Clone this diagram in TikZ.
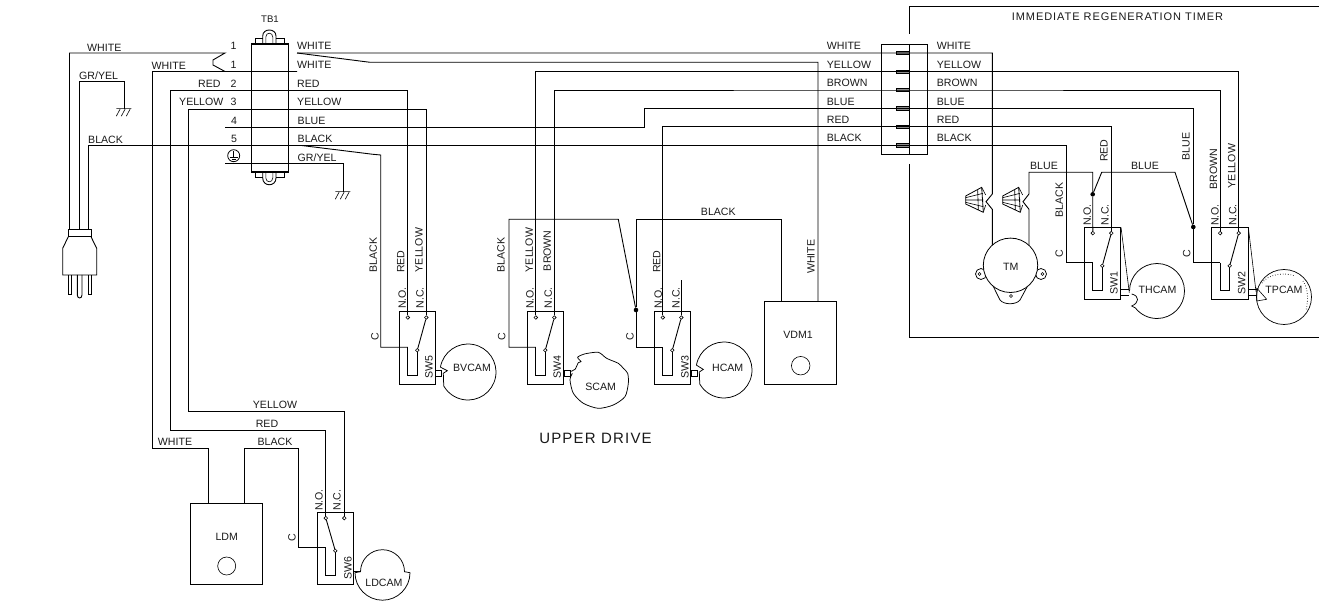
\documentclass[tikz,border=0pt]{standalone}
\usepackage{fontspec}
\setmainfont{Liberation Sans}
\newfontfamily\spacedA[LetterSpace=8]{Liberation Sans}
\newfontfamily\spacedB[LetterSpace=8.5]{Liberation Sans}
\newcounter{lbn}
\tikzset{
  wire/.style={line width=.9pt,black,line join=miter},
  thinwire/.style={line width=.6pt,black},
  boxed/.style={draw,line width=.9pt,inner sep=0pt,rectangle},
  swbox/.style={boxed,minimum width=36.6pt,minimum height=72.4pt},
  contact/.style={draw,circle,fill=white,line width=.6pt,inner sep=0pt,minimum size=3.6pt},
  jdot/.style={circle,fill=black,inner sep=0pt,minimum size=4.6pt},
  holec/.style={draw,circle,line width=.6pt,inner sep=0pt},
  lb/.style={inner sep=0pt,font=\fontsize{10.6}{12}\selectfont,text=black!90},
  vlb/.style={lb,rotate=90},
  cam/.style={line width=.75pt,black}
}
\newcommand\LL[3][]{\stepcounter{lbn}\node[lb,anchor=west,#1] (lab\thelbn) at (#2) {#3};}
\newcommand\CL[3][]{\stepcounter{lbn}\node[lb,#1] (lab\thelbn) at (#2) {#3};}
\newcommand\VL[2]{\stepcounter{lbn}\node[vlb] (lab\thelbn) at (#1) {#2};}
% switch block: name, left x, top y, contact the arm goes to
\newcommand\SwitchBlock[4]{%
  \begin{scope}[shift={(#2,#3)}]
    \node[swbox] (#1) at (18.3,36.2) {};
    \coordinate (#1i) at (8.5,35.5);
    \draw[wire] (#1i) -- (8.5,63.3) -- (18,63.3) -- (18,38.5);
    \node[contact] (#1no) at (8.5,5.8) {};
    \node[contact] (#1nc) at (27,5.8) {};
    \node[contact] (#1c) at (18,38.5) {};
    \draw[wire] (#1c) -- (#1#4);
  \end{scope}}
\newcommand\GroundAt[2]{%
  \begin{scope}[shift={(#1)}]
    \coordinate (#2) at (0,0);
    \draw[thinwire] (-8,0) -- (7,0) (-4,0) -- (-8,7.5) (1,0) -- (-3,7.5) (6,0) -- (2,7.5);
  \end{scope}}
\newcommand\QuickConnect[1]{%
  \begin{scope}[shift={(#1)},scale=1/3]
    \draw[line width=.8pt,line join=round] (32,48) -- (80,22) -- (85,97) -- (32,72) -- cycle;
    \draw[thinwire] (32,60) -- (85,60) (32,53) -- (84,40) (32,67) -- (85,80) (68,30) -- (70,90);
    \draw[thinwire] (80,22) -- (92,45) (85,97) -- (92,75);
  \end{scope}}
\begin{document}
\begin{tikzpicture}[x=1pt,y=-1pt]
\useasboundingbox (0,0) rectangle (1319,601);
% ---------- named end points ----------
\coordinate (plugW) at (69.5,229.3);
\coordinate (plugG) at (79.3,229.3);
\coordinate (plugB) at (88.3,229.3);
\coordinate (tbL1a) at (225,53);
\coordinate (tbL1b) at (225,71.5);
\coordinate (tbR1a) at (297,53);
\coordinate (tbR1b) at (297,71.5);
\coordinate (tbL4) at (225,127);
\coordinate (tbLg) at (225,163.7);
\coordinate (tbBk) at (301.7,145.5);
\foreach \nm/\yy in {W/53,Y/71.7,Br/90,B/108.3,R/126.7,K/145.3}{\coordinate (con\nm) at (909.3,\yy);}
\coordinate (tmA) at (992.3,245.4);
\coordinate (tmB) at (1029,245.6);
\coordinate (ldmW) at (208.3,503.3);
\coordinate (ldmB) at (244.7,503.3);
\coordinate (vdmW) at (818,301);
\coordinate (vdmB) at (781.7,301);
% ---------- boxes ----------
\node[boxed,line width=1.2pt,minimum width=37pt,minimum height=128pt] (tb1) at (270,108) {};
\node[boxed,minimum width=46pt,minimum height=110pt] (timerconn) at (904.7,99) {};
\node[boxed,minimum width=72.7pt,minimum height=83pt] (vdm1) at (800.4,342.5) {};
\node[boxed,minimum width=72pt,minimum height=81pt] (ldm) at (226.7,543.8) {};
\node[holec,minimum size=18.5pt] (vdmh) at (800.7,365.7) {};
\node[holec,minimum size=18pt] (ldmh) at (226.7,566) {};
\SwitchBlock{swv}{399.3}{311.7}{nc}
\SwitchBlock{swf}{527.3}{311.7}{nc}
\SwitchBlock{swt}{654.3}{311.7}{nc}
\SwitchBlock{swo}{1084.3}{227.3}{nc}
\SwitchBlock{swb}{1211.7}{227.3}{nc}
\SwitchBlock{swx}{317.3}{512.3}{no}
\node[jdot] (dotA) at (636,310) {};
\node[jdot] (dotB) at (1092.7,194.3) {};
\node[jdot] (dotC) at (1193.3,227) {};
% ---------- timer frame ----------
\coordinate (frA) at (909.3,34);
\coordinate (frB) at (909.3,164);
\draw[wire] (frA) |- (1319,6);
\draw[wire] (frB) |- (1319,337.5);
\draw[thinwire] (909.3,44) -- (909.3,154);
\foreach \yy in {53,71.7,90,108.3,126.7,145.3}{\draw[thinwire,fill=black!45] (896,\yy-1.6) rectangle (909.3,\yy+1.6);}
% ---------- wires ----------
\draw[wire] (plugW) |- (tbL1a) -- (213,60) -- (213,65) -- (tbL1b) -- (tbR1b);
\draw[wire] (ldmW) |- (152.7,448) -- (152.7,71.5) -- (tbL1b);
\draw[wire] (tbR1a) -- (conW) -- (992.3,53) -- (992.3,194) -- (986,201.7) -- (992.3,209.3) -- (tmA);
\draw[wire] (tbR1a) -- (370,62.3) -| (vdmW);
\draw[wire] (swxno) |- (170.7,430) -- (170.7,90) -| (swvno);
\draw[wire] (swxnc) |- (188.7,411.7) -- (188.7,109) -| (swvnc);
\draw[wire] (plugB) |- (conK) -- (1066,145.3) |- (swoi);
\draw[wire] (tbBk) -- (373,154.3) -- (380.7,155) |- (swvi);
\draw[wire] (plugG) |- (124.3,81.7) -- (124.3,108.7);
\draw[wire] (tbL4) -- (644.3,127) -- (644.3,108.3) -- (conB) -| (dotC);
\draw[wire] (swfno) |- (conY) -| (swbnc);
\draw[wire] (swfnc) |- (conBr) -| (swbno);
\draw[wire] (swtno) |- (conR) -| (swonc);
\draw[wire] (swfi) -- (509,347.2) -- (509,219.3) -- (618.3,219.3) -- (dotA);
\draw[wire] (swti) -| (dotA);
\draw[wire] (dotA) |- (781.7,219.3) -- (vdmB);
\draw[wire] (swtnc) -- ++(0,-37);
\draw[wire] (ldmB) -- (244.7,448) -- (298.7,448) |- (swxi);
\draw[wire] (swbi) -| (dotC);
\draw[wire] (dotC) -- (1175,172.3) -- (1101.7,172.3) -- (dotB);
\draw[wire] (swono) -- (dotB) -- (1092.7,172.3) -- (1029,172.3) -- (1029,194) -- (1023,201.7) -- (1029,209.3) -- (tmB);
\draw[wire] (tbLg) -- (343.3,163.7) -- (343.3,191.7);
\GroundAt{124.3,108.7}{gndA}
\GroundAt{343.3,191.7}{gndB}
% ---------- terminal block ends ----------
\draw[wire,line width=1pt] (255,44) -- (255,38.5) -- (262.7,38.5) (276,38.5) -- (284.3,38.5) -- (284.3,44);
\draw[wire] (262.7,44) -- (262.7,36) .. controls (262.7,28) and (276,28) .. (276,36) -- (276,44);
\draw[thinwire] (265.8,44) -- (265.8,37) .. controls (265.8,32) and (272.8,32) .. (272.8,37) -- (272.8,44);
\draw[wire,line width=1pt] (255,172) -- (255,177.7) -- (262.7,177.7) (276,177.7) -- (284.3,177.7) -- (284.3,172);
\draw[wire] (262.7,172) -- (262.7,178) .. controls (262.7,187) and (276,187) .. (276,178) -- (276,172);
\draw[thinwire] (265.8,172) -- (265.8,178) .. controls (265.8,183) and (272.8,183) .. (272.8,178) -- (272.8,172);
\node[holec,line width=.8pt,minimum size=12pt] (gndsym) at (233.7,155.7) {};
\draw[thinwire] (233.7,151.5) -- (233.7,157) (229.5,157) -- (238,157) (231.5,159.3) -- (236,159.3);
% ---------- plug ----------
\draw[wire,line width=.9pt] (68.3,229.3) rectangle (91,236.7);
\draw[wire] (68.3,236.7) -- (62.7,248.3) -- (62.7,275) -- (96.7,275) -- (96.7,248.3) -- (91,236.7);
\draw[wire] (68.3,275) -- (68.3,294) -- (71,294) -- (71,275);
\draw[wire] (77.3,275) -- (77.3,295) .. controls (77.3,299) and (82,299) .. (82,295) -- (82,275);
\draw[wire] (88.3,275) -- (88.3,294) -- (91.7,294) -- (91.7,275);
% ---------- motor and quick connects ----------
\QuickConnect{955,180}
\QuickConnect{992,180}
\draw[cam,fill=white] (981,274) circle (5.5);
\draw[cam,fill=white] (1041,274) circle (5.5);
\draw[cam,fill=white] (991.7,283.3) -- (1000,300) .. controls (1004,305) and (1016,305) .. (1020,300) -- (1029,283.3);
\node[draw,circle,fill=white,line width=.8pt,minimum size=54.4pt,inner sep=0pt] (tm) at (1010.5,265.3) {};
\node[holec,minimum size=3pt] (tmh0) at (1011,296) {};
\node[holec,minimum size=3pt] (tmh1) at (979.5,274) {};
\node[holec,minimum size=3pt] (tmh2) at (1042.5,274) {};
% ---------- cams ----------
\begin{scope}[shift={(468,372)}]
  \draw[cam] (190:28) arc[start angle=190,end angle=510,radius=28] -- (-24.7,1.3) -- (-20.7,-1.3) -- cycle;
\end{scope}
\draw[thinwire] (435.7,370.7) rectangle (441.7,376);
\begin{scope}[shift={(724,370)}]
  \draw[cam] (190:28) arc[start angle=190,end angle=510,radius=28] -- (-24.7,2) -- (-20.7,-.6) -- cycle;
\end{scope}
\draw[thinwire] (691,370.7) rectangle (697,376);
\begin{scope}[shift={(555,340)},scale=1/3]
  \draw[cam] plot[smooth,tension=.45] coordinates {(45,95) (60,88) (70,68) (78,65) (68,52) (88,42) (130,37) (155,55) (190,70) (205,85) (218,100) (220,130) (210,170) (175,195) (130,205) (85,190) (55,160) (45,120) (52,100)};
\end{scope}
\draw[thinwire] (564,370.7) rectangle (570.5,376);
\begin{scope}[shift={(382.5,572.7)}]
  \draw[cam] (27.5,0) arc[start angle=0,end angle=180,radius=27.5] -- (-22,-1) arc[start angle=180,end angle=360,radius=22] -- cycle;
\end{scope}
\draw[thinwire] (354,571.7) -- (360,571.7);
\begin{scope}[shift={(1157,291)}]
  \draw[cam] (180:27.5) arc[start angle=180,end angle=502,radius=27.5] -- (-25.3,15) .. controls (-18,12) and (-17,5) .. (-25.3,3);
\end{scope}
\draw[thinwire] (1121,289) -- (1129,289) (1121,295) -- (1129,295);
\draw[thinwire] (1121,227.3) -- (1129.3,292.7);
\node[draw,circle,line width=.7pt,minimum size=55pt,inner sep=0pt] (tpcam) at (1284,297) {};
\draw[thinwire,dotted,line width=.8pt] (1262,283) .. controls (1268,274) and (1285,272) .. (1295,276);
\draw[thinwire,dotted,line width=.8pt] (1303,281) .. controls (1309,290) and (1308,302) .. (1306,310);
\draw[thinwire,line join=round] (1256.7,288) -- (1266.7,299.3) -- (1256.7,301) -- cycle;
\draw[thinwire] (1248.3,289) -- (1256.7,289) (1248.3,295) -- (1256.7,295);
\draw[thinwire] (1248.3,227.3) -- (1256,291.7);
% ---------- labels ----------
\CL[font=\fontsize{9.6}{11}\selectfont]{270,19}{TB1}
\LL{87,47.5}{WHITE}
\LL{79,75.5}{GR/YEL}
\LL{88,140}{BLACK}
\LL{151.5,65.5}{WHITE}
\LL{198,84}{RED}
\LL{179,102}{YELLOW}
\CL{233.5,46}{1}
\CL{233.5,65}{1}
\CL{233.5,84}{2}
\CL{233.5,102}{3}
\CL{234,120.5}{4}
\CL{234,139}{5}
\LL{297,46}{WHITE}
\LL{297,65}{WHITE}
\LL{297,83.5}{RED}
\LL{297,102}{YELLOW}
\LL{297.5,120.5}{BLUE}
\LL{297.5,139}{BLACK}
\LL{297.5,157.7}{GR/YEL}
\foreach \tx/\yy in {WHITE/46,YELLOW/65,BROWN/83,BLUE/102,RED/120,BLACK/138}{
  \LL{826.7,\yy}{\tx}
  \LL{936.7,\yy}{\tx}
}
\VL{373.3,255}{BLACK}
\VL{400.7,261.7}{RED}
\VL{419,250}{YELLOW}
\VL{402.3,298}{N.O.}
\VL{420,298}{N.C.}
\VL{375,336.7}{C}
\VL{429,366.7}{SW5}
\VL{501,255}{BLACK}
\VL{529.3,250}{YELLOW}
\VL{547.3,250.7}{BROWN}
\VL{530,298}{N.O.}
\VL{548.3,298}{N.C.}
\VL{501.7,336.7}{C}
\VL{557.3,366.7}{SW4}
\VL{630,336.7}{C}
\VL{656.7,261.7}{RED}
\VL{658.3,298}{N.O.}
\VL{676,298}{N.C.}
\VL{685,366.7}{SW3}
\VL{811,256.7}{WHITE}
\CL{718.3,212.3}{BLACK}
\CL{798,335}{VDM1}
\CL{472,368}{BVCAM}
\CL{600.7,387}{SCAM}
\CL{727.7,368}{HCAM}
\CL[font=\spacedA\fontsize{15}{17}\selectfont]{595.5,438}{UPPER DRIVE}
\CL[font=\spacedB\fontsize{11}{13}\selectfont]{1117.5,17}{IMMEDIATE REGENERATION TIMER}
\VL{1104,150.7}{RED}
\VL{1186,146.7}{BLUE}
\VL{1213.5,169}{BROWN}
\VL{1231.7,166}{YELLOW}
\CL{1044,166}{BLUE}
\CL{1145,166}{BLUE}
\VL{1059.3,200}{BLACK}
\VL{1059.3,254}{C}
\VL{1087.3,215}{N.O.}
\VL{1105,215}{N.C.}
\VL{1114,283.3}{SW1}
\VL{1186.7,254}{C}
\VL{1215,215}{N.O.}
\VL{1232.7,215}{N.C.}
\VL{1241.7,283.3}{SW2}
\CL{1010.7,266.7}{TM}
\CL{1157.5,290}{THCAM}
\CL{1284,290}{TPCAM}
\CL{226.7,536.7}{LDM}
\CL{384,582.7}{LDCAM}
\VL{348,568}{SW6}
\VL{292,538}{C}
\VL{319,500}{N.O.}
\VL{337,500}{N.C.}
\CL{275,441.5}{BLACK}
\CL{267,423.5}{RED}
\CL{275,405}{YELLOW}
\CL{175,441.5}{WHITE}
\end{tikzpicture}
\end{document}
